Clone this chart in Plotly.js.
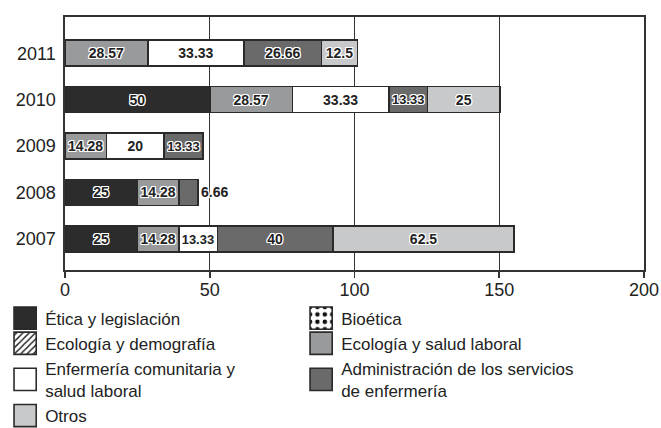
<!DOCTYPE html>
<html>
<head>
<meta charset="utf-8">
<script src="https://cdn.plot.ly/plotly-3.0.1.min.js"></script>
<style>html,body{margin:0;padding:0;background:#fff;}</style>
</head>
<body>
<div id="chart" style="width:661px;height:428px;"></div>
<script>
const years = ['2007', '2008', '2009', '2010', '2011'];
const etica = [25, 25, null, 50, null];
const bioetica = [null, null, null, null, null];
const ecologiaDemografia = [null, null, null, null, null];
const ecologiaSalud = [14.28, 14.28, 14.28, 28.57, 28.57];
const enfermeria = [13.33, null, 20, 33.33, 33.33];
const administracion = [40, 6.66, 13.33, 13.33, 26.66];
const otros = [62.5, null, null, 25, 12.5];
const xTicks = [0, 50, 100, 150, 200];

const FONT = 'Liberation Sans, Arial, Helvetica, sans-serif';
const halo = '1px 1px 0 #fff, -1px -1px 0 #fff, 1px -1px 0 #fff, -1px 1px 0 #fff, 0 1px 0 #fff, 0 -1px 0 #fff, 1px 0 0 #fff, -1px 0 0 #fff';
const lbl = v => v.map(d => (d === null ? '' : String(d)));

function series(name, vals, marker, extra) {
  return Object.assign({
    type: 'bar', orientation: 'h', name: name, y: years, x: vals,
    text: lbl(vals), textposition: 'inside', insidetextanchor: 'middle',
    textfont: {family: FONT, size: 14, weight: 700, color: '#222', shadow: halo},
    outsidetextfont: {family: FONT, size: 14, weight: 700, color: '#222', shadow: halo},
    cliponaxis: false, hoverinfo: 'x+name',
    marker: Object.assign({line: {color: '#2a2a2a', width: 1.6}}, marker)
  }, extra || {});
}

const data = [
  series('Ética y legislación', etica, {color: '#2c2c2c'}),
  series('Bioética', bioetica, {color: '#ffffff', pattern: {shape: '.', fgcolor: '#111', bgcolor: '#fff', size: 5, solidity: 0.3}}),
  series('Ecología y demografía', ecologiaDemografia, {color: '#ffffff', pattern: {shape: '/', fgcolor: '#111', bgcolor: '#fff', size: 3, solidity: 0.3}}),
  series('Ecología y salud laboral', ecologiaSalud, {color: '#999a9b'}),
  series('Enfermería comunitaria y<br>salud laboral', enfermeria, {color: '#ffffff'}),
  series('Administración de los servicios<br>de enfermería', administracion, {color: '#6a6a6a'},
         {textposition: ['inside', 'outside', 'inside', 'inside', 'inside']}),
  series('Otros', otros, {color: '#c8c9ca'})
];

const layout = {
  width: 661, height: 428,
  margin: {l: 65, r: 17, t: 17, b: 158, autoexpand: false},
  barmode: 'stack', bargap: 0.44,
  paper_bgcolor: '#fff', plot_bgcolor: '#fff',
  font: {family: FONT, color: '#222', size: 18},
  xaxis: {
    range: [0, 200], tickvals: xTicks, ticktext: xTicks.map(String),
    showgrid: true, gridcolor: '#333', gridwidth: 1.2,
    showline: true, linecolor: '#333', linewidth: 1.6, mirror: true,
    ticks: 'outside', ticklen: 6, tickwidth: 1.6, tickcolor: '#333',
    ticklabelstandoff: -3,
    zeroline: false, tickfont: {size: 18, color: '#222'}
  },
  yaxis: {
    type: 'category', range: [-0.67, 4.78],
    showgrid: false, showline: true, linecolor: '#333', linewidth: 1.6, mirror: true,
    ticks: '', ticklabelstandoff: 4, tickfont: {size: 18, color: '#222'}
  },
  showlegend: true,
  legend: {
    orientation: 'h', x: -0.1034, xanchor: 'left', y: -0.121, yanchor: 'top',
    traceorder: 'normal', entrywidth: 251, entrywidthmode: 'pixels',
    font: {size: 17, color: '#222'}, bgcolor: 'rgba(0,0,0,0)', borderwidth: 0
  }
};

function enlargeSwatches(gd) {
  gd.querySelectorAll('.legend .legendpoints path').forEach(p => {
    const t = p.getAttribute('transform') || '';
    p.setAttribute('transform', (t + ' scale(1.85)').trim());
    p.style.vectorEffect = 'non-scaling-stroke';
  });
}

Plotly.newPlot('chart', data, layout, {staticPlot: true}).then(gd => enlargeSwatches(gd));
</script>
</body>
</html>
